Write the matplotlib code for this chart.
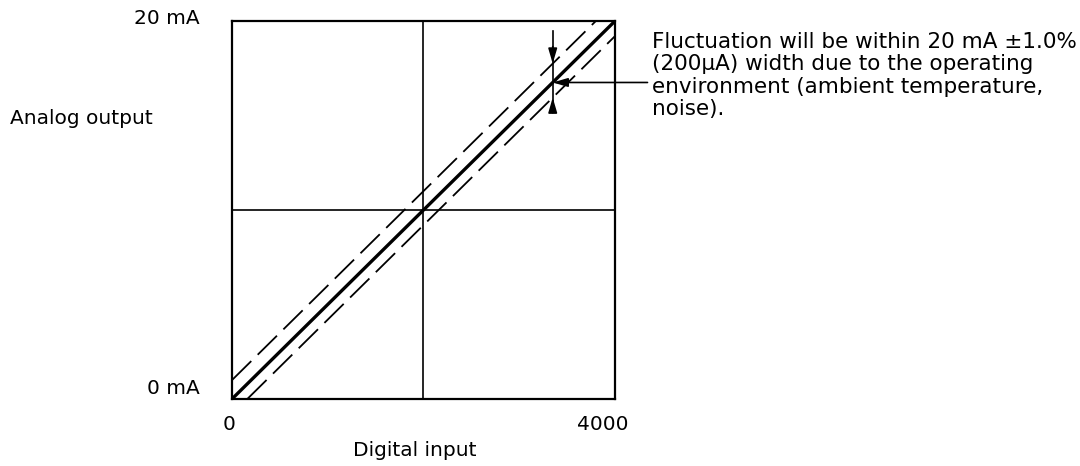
import matplotlib.pyplot as plt
import numpy as np

# characteristic line and the +/- band (illustrative)
digital = [0, 4000]
analog = [0, 20]
upper_x = [0, 3800]
upper_y = [1.0, 20]
lower_x = [160, 4000]
lower_y = [0, 19.2]

marker_x = 3350
marker_top = 19.5
marker_bottom = 15.2
band_hi = 17.75
band_lo = 15.95
mid = 16.75

plt.rcParams['font.family'] = ['DejaVu Sans']

fig = plt.figure(figsize=(10.8, 4.66), dpi=100)
ax = fig.add_axes([0.2148, 0.1438, 0.3546, 0.811])

ax.plot(digital, analog, color='black', lw=2.4, solid_capstyle='butt')
ax.plot(upper_x, upper_y, color='black', lw=1.3, dashes=(15, 5))
ax.plot(lower_x, lower_y, color='black', lw=1.3, dashes=(15, 5))

ax.axvline(2000, color='black', lw=1.2)
ax.axhline(10, color='black', lw=1.2)

ax.set_xlim(0, 4000)
ax.set_ylim(0, 20)
ax.set_xticks([])
ax.set_yticks([])
for s in ax.spines.values():
    s.set_linewidth(1.6)

# fluctuation marker
arr = dict(arrowstyle='-|>,head_length=0.75,head_width=0.22', color='black', lw=1.2,
           mutation_scale=12, shrinkA=0, shrinkB=0)
ax.plot([marker_x, marker_x], [marker_top, marker_bottom], color='black', lw=1.2)
ax.annotate('', xy=(marker_x, band_hi), xytext=(marker_x, band_hi + 0.9), arrowprops=arr)
ax.annotate('', xy=(marker_x, band_lo), xytext=(marker_x, band_lo - 0.8), arrowprops=arr)
ax.annotate('', xy=(marker_x, mid), xytext=(4340, mid), arrowprops=arr,
            annotation_clip=False)

# axis labels
fs = 14.5
fig.text(200 / 1080, 1 - 19 / 466, '20 mA', ha='right', va='center', fontsize=fs)
fig.text(200 / 1080, 1 - 389 / 466, '0 mA', ha='right', va='center', fontsize=fs)
fig.text(10 / 1080, 1 - 118 / 466, 'Analog output', ha='left', va='center', fontsize=fs)
fig.text(229 / 1080, 1 - 424 / 466, '0', ha='center', va='center', fontsize=fs)
fig.text(603 / 1080, 1 - 424 / 466, '4000', ha='center', va='center', fontsize=fs)
fig.text(415 / 1080, 1 - 450 / 466, 'Digital input', ha='center', va='center', fontsize=fs)

note = ('Fluctuation will be within 20 mA \u00b11.0%\n'
        '(200\u03bcA) width due to the operating\n'
        'environment (ambient temperature,\n'
        'noise).')
fig.text(652 / 1080, 1 - 32 / 466, note, ha='left', va='top', fontsize=15.5,
         linespacing=1.15)

fig.savefig('out.png', dpi=100)
